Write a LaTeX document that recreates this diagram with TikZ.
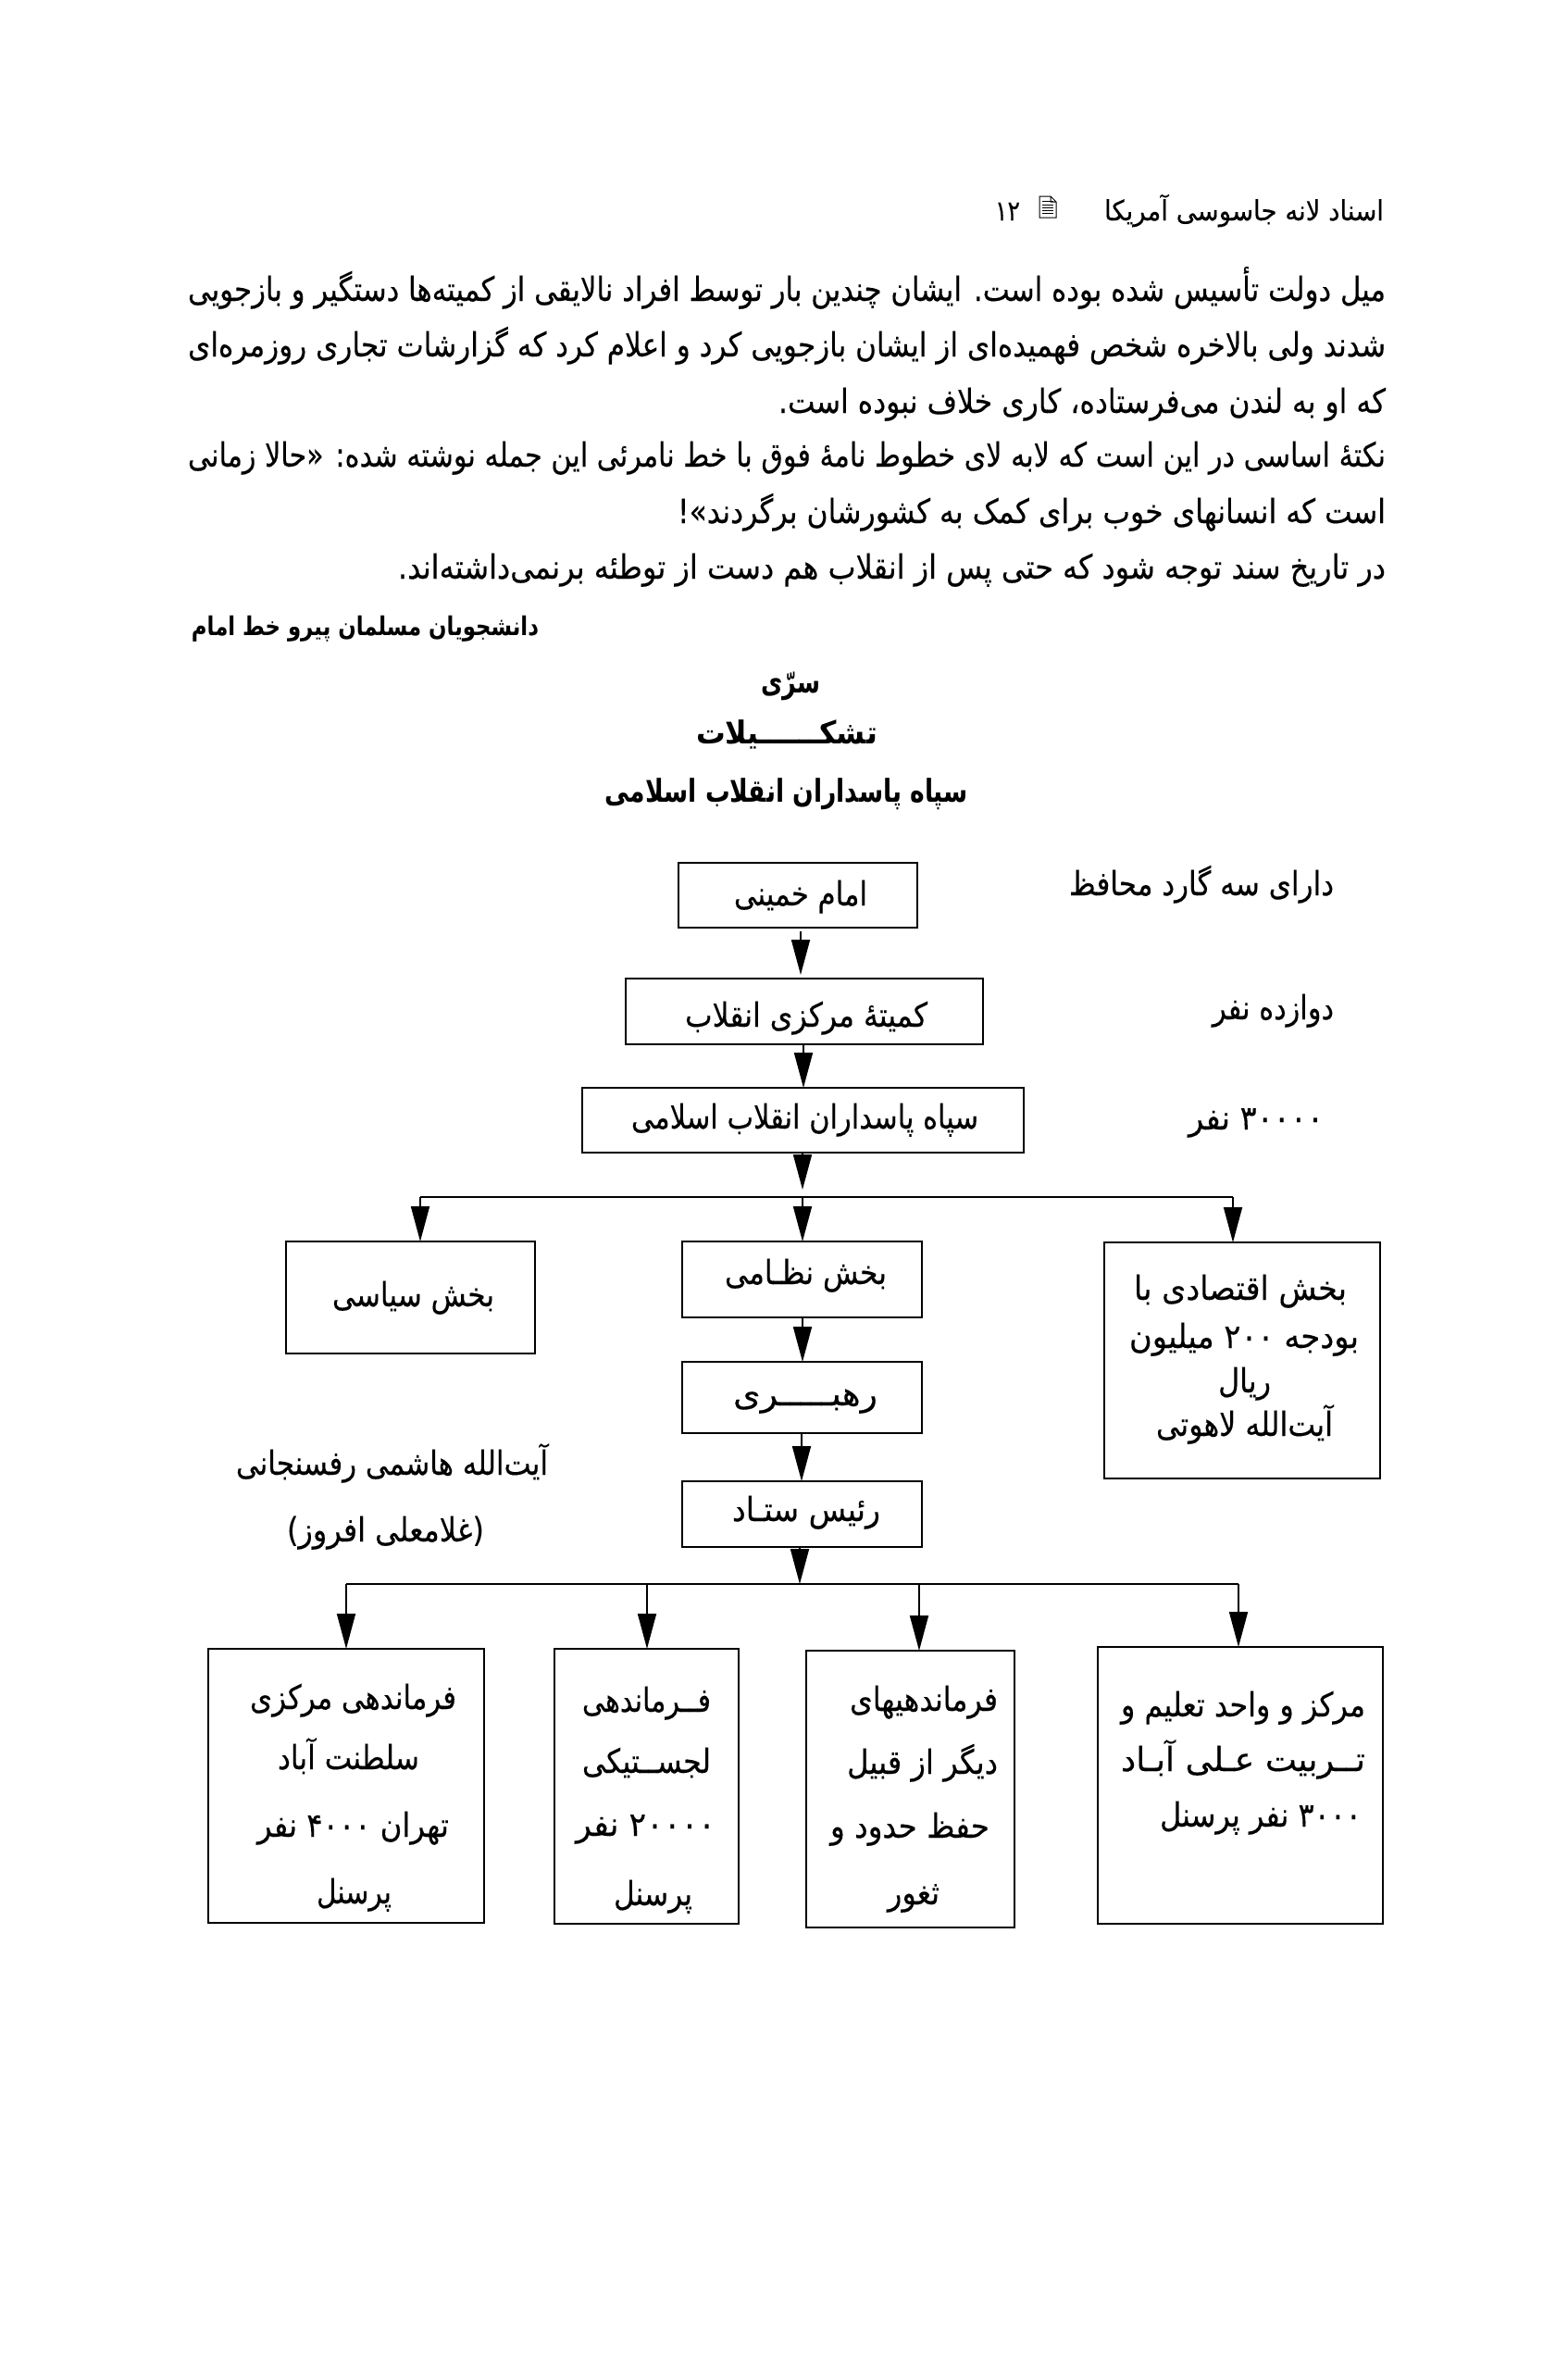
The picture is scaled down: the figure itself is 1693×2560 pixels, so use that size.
\documentclass[tikz,border=0pt]{standalone}
\usepackage{fontspec}
\usepackage{graphicx}
\usetikzlibrary{arrows.meta}
\TeXXeTstate=1
\newfontfamily\arfont[Script=Arabic,FakeBold=0.25]{DejaVu Sans}
\newfontfamily\arbold[Script=Arabic]{DejaVu Sans Bold}
\newlength\pxu \setlength\pxu{0.5pt}
\newcommand{\bx}[5]{%
  \pgfmathsetmacro\bxw{(#4-#2)*0.5}%
  \pgfmathsetmacro\bxh{(#5-#3)*0.5}%
  \node[boxn,minimum width=\bxw pt,minimum height=\bxh pt] (#1) at ({(#2+#4)/2},{(#3+#5)/2}) {};}
% name, left, right, vertical middle, font size, text
\newcommand{\tl}[6]{%
  \pgfmathsetmacro\tlw{#3-#2}%
  \node[txt,font=\arfont\fontsize{#5}{#5}\selectfont] (#1) at ({(#2+#3)/2},{#4+11})
    {\resizebox{\tlw\pxu}{\height}{#6}};}
\tikzset{
  boxn/.style={draw=black,line width=1.3pt,inner sep=0pt,outer sep=0pt,fill=white},
  txt/.style={inner sep=0pt,outer sep=0pt,anchor=base,text=black},
  arr/.style={draw=black,line width=0.9pt,-{Triangle[length=19pt,width=10pt]},shorten >=0pt},
  cnn/.style={draw=black,line width=0.8pt}
}
\begin{document}
\begin{tikzpicture}[x=0.5pt,y=-0.5pt]
\useasboundingbox (0,0) rectangle (1693,2560);
\fill[white] (0,0) rectangle (1693,2560);

% header
\tl{hd}{1193}{1495}{227}{15}{\beginR اسناد لانه جاسوسی آمریکا\endR}
\tl{pg}{1075}{1102}{227}{15}{\beginR\beginL ۱۲\endL\endR}
\draw[line width=0.5pt] (1123,212) -- (1135,212) -- (1141,218) -- (1141,235) -- (1123,235) -- cycle
  (1135,212) -- (1135,218) -- (1141,218);
\foreach \yy in {217,221,224,227,230} \draw[line width=0.4pt] (1126,\yy) -- (1138,\yy);

% body
\tl{l1}{203}{1497}{314}{18}{\beginR میل دولت تأسیس شده بوده است. ایشان چندین بار توسط افراد نالایقی از کمیته‌ها دستگیر و بازجویی\endR}
\tl{l2}{203}{1497}{374}{18}{\beginR شدند ولی بالاخره شخص فهمیده‌ای از ایشان بازجویی کرد و اعلام کرد که گزارشات تجاری روزمره‌ای\endR}
\tl{l3}{841}{1497}{435}{18}{\beginR که او به لندن می‌فرستاده، کاری خلاف نبوده است.\endR}
\tl{l4}{203}{1497}{493}{18}{\beginR نکتهٔ اساسی در این است که لابه لای خطوط نامهٔ فوق با خط نامرئی این جمله نوشته شده: «حالا زمانی\endR}
\tl{l5}{732}{1497}{554}{18}{\beginR است که انسانهای خوب برای کمک به کشورشان برگردند»!\endR}
\tl{l6}{430}{1497}{614}{18}{\beginR در تاریخ سند توجه شود که حتی پس از انقلاب هم دست از توطئه برنمی‌داشته‌اند.\endR}
\tl{sg}{207}{582}{675}{14}{\arbold\beginR دانشجویان مسلمان پیرو خط امام\endR}

% titles
\tl{t1}{822}{886}{737}{17}{\arbold\beginR سرّی\endR}
\tl{t2}{752}{948}{792}{17}{\arbold\beginR تشکــــــیلات\endR}
\tl{t3}{654}{1046}{855}{17}{\arbold\beginR سپاه پاسداران انقلاب اسلامی\endR}

% side notes
\tl{n1}{1155}{1441}{956}{18}{\beginR دارای سه گارد محافظ\endR}
\tl{n2}{1310}{1441}{1090}{18}{\beginR دوازده نفر\endR}
\tl{n3}{1284}{1430}{1209}{18}{\beginR\beginL ۳۰۰۰۰\endL{} نفر\endR}
\tl{n4}{255}{592}{1582}{18}{\beginR آیت‌الله هاشمی رفسنجانی\endR}
\tl{n5}{310}{523}{1654}{18}{\beginR (غلامعلی افروز)\endR}

% boxes
\bx{b1}{733}{932}{991}{1002}
\bx{b2}{676}{1057}{1062}{1128}
\bx{b3}{629}{1175}{1106}{1245}
\bx{s1}{309}{1341}{578}{1462}
\bx{s2}{737}{1341}{996}{1423}
\bx{s3}{1193}{1342}{1491}{1597}
\bx{r1}{737}{1471}{996}{1548}
\bx{r2}{737}{1600}{996}{1671}
\bx{c1}{225}{1781}{523}{2077}
\bx{c2}{599}{1781}{798}{2078}
\bx{c3}{871}{1783}{1096}{2082}
\bx{c4}{1186}{1779}{1494}{2078}

% box text
\tl{tb1}{793}{937}{967}{18}{\beginR امام خمینی\endR}
\tl{tb2}{740}{1002}{1098}{18}{\beginR کمیتهٔ مرکزی انقلاب\endR}
\tl{tb3}{682}{1057}{1208}{18}{\beginR سپاه پاسداران انقلاب اسلامی\endR}
\tl{ts1}{359}{534}{1400}{18}{\beginR بخش سیاسی\endR}
\tl{ts2}{783}{958}{1376}{18}{\beginR بخش نظـامی\endR}
\tl{tr1}{792}{948}{1507}{18}{\beginR رهبـــــری\endR}
\tl{tr2}{791}{951}{1632}{18}{\beginR رئیس ستـاد\endR}
\tl{ts31}{1225}{1455}{1393}{18}{\beginR بخش اقتصادی با\endR}
\tl{ts32}{1220}{1468}{1445}{18}{\beginR بودجه \beginL ۲۰۰\endL{} میلیون\endR}
\tl{ts33}{1316}{1373}{1493}{18}{\beginR ریال\endR}
\tl{ts34}{1249}{1440}{1540}{18}{\beginR آیت‌الله لاهوتی\endR}
\tl{ta1}{270}{493}{1835}{18}{\beginR فرماندهی مرکزی\endR}
\tl{ta2}{300}{453}{1900}{18}{\beginR سلطنت آباد\endR}
\tl{ta3}{278}{485}{1973}{18}{\beginR تهران \beginL ۴۰۰۰\endL{} نفر\endR}
\tl{ta4}{342}{423}{2045}{18}{\beginR پرسنل\endR}
\tl{tc1}{629}{768}{1838}{18}{\beginR فــرماندهی\endR}
\tl{tc2}{629}{768}{1904}{18}{\beginR لجســتیکی\endR}
\tl{tc3}{622}{773}{1972}{18}{\beginR\beginL ۲۰۰۰۰\endL{} نفر\endR}
\tl{tc4}{663}{748}{2047}{18}{\beginR پرسنل\endR}
\tl{td1}{918}{1078}{1837}{18}{\beginR فرماندهیهای\endR}
\tl{td2}{915}{1078}{1905}{18}{\beginR دیگر از قبیل\endR}
\tl{td3}{897}{1069}{1974}{18}{\beginR حفظ حدود و\endR}
\tl{td4}{959}{1015}{2046}{18}{\beginR ثغور\endR}
\tl{te1}{1211}{1475}{1843}{18}{\beginR مرکز و واحد تعلیم و\endR}
\tl{te2}{1211}{1475}{1902}{18}{\beginR تــربیت عـلی آبـاد\endR}
\tl{te3}{1253}{1471}{1962}{18}{\beginR\beginL ۳۰۰۰\endL{} نفر پرسنل\endR}

% connector columns and rails
\coordinate (xa) at (865,0);
\coordinate (xb) at (868,0);
\coordinate (xc) at (867,0);
\coordinate (xd) at (866,0);
\coordinate (xe) at (864,0);
\coordinate (xl) at (454,0);
\coordinate (xr) at (1332,0);
\coordinate (x1) at (374,0);
\coordinate (x2) at (699,0);
\coordinate (x3) at (993,0);
\coordinate (x4) at (1338,0);
\coordinate (ru) at (0,1293);
\coordinate (rl) at (0,1711);
\coordinate (au) at (0,1006);
\coordinate (ad) at (0,1053);
\coordinate (at) at (0,1285);

\draw[arr] (xa |- au) -- (xa |- ad);
\draw[arr] (xb |- b2.south) -- (xb |- b3.north);
\draw[arr] (xc |- b3.south) -- (xc |- at);
\draw[cnn] (xl |- ru) -- (xr |- ru);
\draw[arr] (xl |- ru) -- (xl |- s1.north);
\draw[arr] (xc |- ru) -- (xc |- s2.north);
\draw[arr] (xr |- ru) -- (xr |- s3.north);
\draw[arr] (xc |- s2.south) -- (xc |- r1.north);
\draw[arr] (xd |- r1.south) -- (xd |- r2.north);
\draw[arr] (xe |- r2.south) -- (xe |- rl);
\draw[cnn] (x1 |- rl) -- (x4 |- rl);
\draw[arr] (x1 |- rl) -- (x1 |- c1.north);
\draw[arr] (x2 |- rl) -- (x2 |- c2.north);
\draw[arr] (x3 |- rl) -- (x3 |- c3.north);
\draw[arr] (x4 |- rl) -- (x4 |- c4.north);
\end{tikzpicture}
\end{document}
